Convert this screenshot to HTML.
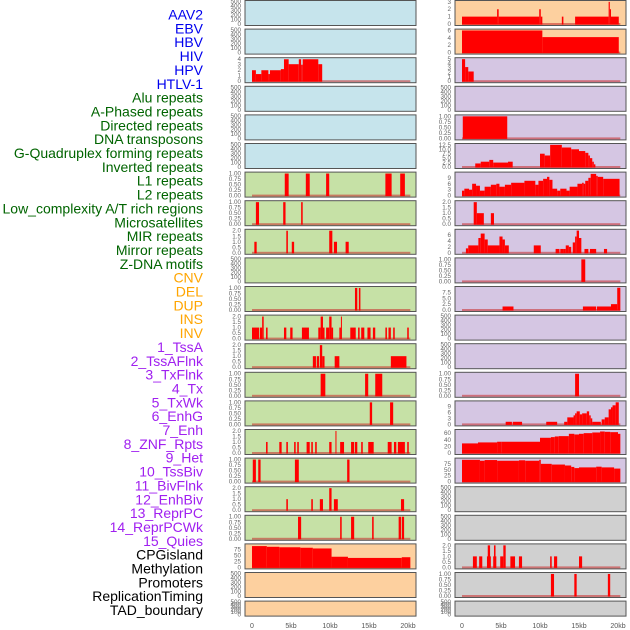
<!DOCTYPE html>
<html><head><meta charset="utf-8">
<style>
html,body{margin:0;padding:0;background:#fff;width:630px;height:630px;overflow:hidden}
svg{display:block;font-family:"Liberation Sans",sans-serif}
</style></head><body>
<svg id="chart" width="630" height="630" viewBox="0 0 630 630"></svg>
<script>
const labelNames = ["AAV2","EBV","HBV","HIV","HPV","HTLV-1","Alu repeats","A-Phased repeats","Directed repeats","DNA transposons","G-Quadruplex forming repeats","Inverted repeats","L1 repeats","L2 repeats","Low_complexity A/T rich regions","Microsatellites","MIR repeats","Mirror repeats","Z-DNA motifs","CNV","DEL","DUP","INS","INV","1_TssA","2_TssAFlnk","3_TxFlnk","4_Tx","5_TxWk","6_EnhG","7_Enh","8_ZNF_Rpts","9_Het","10_TssBiv","11_BivFlnk","12_EnhBiv","13_ReprPC","14_ReprPCWk","15_Quies","CPGisland","Methylation","Promoters","ReplicationTiming","TAD_boundary"];
const labelColors = ["#0000ee","#0000ee","#0000ee","#0000ee","#0000ee","#0000ee","#006400","#006400","#006400","#006400","#006400","#006400","#006400","#006400","#006400","#006400","#006400","#006400","#006400","#ffa500","#ffa500","#ffa500","#ffa500","#ffa500","#a020f0","#a020f0","#a020f0","#a020f0","#a020f0","#a020f0","#a020f0","#a020f0","#a020f0","#a020f0","#a020f0","#a020f0","#a020f0","#a020f0","#a020f0","#000","#000","#000","#000","#000"];
const xTickValues = [0,5,10,15,20];
const xTickLabels = ["0","5kb","10kb","15kb","20kb"];

const hivSegs = [[0,0.5,2],[0.5,1.2,1.3],[1.2,2.1,2],[2.1,2.3,1.3],[2.3,3.7,2],[3.7,4.1,2.2],[4.1,4.7,4],[4.7,6.0,3.1],[6.0,6.3,4],[6.3,6.5,3],[6.5,8.5,4],[8.5,9.0,3.1]];
const l7Segs = [[4.2,4.7,1],[6.9,7.4,1],[9.5,9.9,1],[17.1,17.9,1],[19.0,19.6,1]];
const l8Segs = [[0.5,0.9,1],[4.0,4.3,1],[6.3,6.5,1]];
const l9Segs = [[0.3,0.6,1],[4.4,4.6,2],[5.1,5.4,1],[9.9,10.3,2],[10.5,10.9,1],[12.0,12.4,1]];
const l11Segs = [[13.2,13.5,1],[13.7,13.9,1]];
const l12Segs = [[0,0.9,1],[1.0,1.3,1],[1.3,1.5,2],[1.8,2.0,1],[4.1,4.4,1],[4.9,5.2,1],[6.4,7.3,1],[8.5,8.8,1],[8.8,9.1,2],[9.1,9.3,1],[9.5,9.9,1],[9.9,10.2,2],[10.2,10.4,1],[11.2,11.4,1],[11.4,11.5,2],[12.6,13.3,1],[13.6,13.8,1],[14.0,14.4,1],[14.8,15.2,1],[15.5,15.8,1],[17.1,17.3,1],[17.5,17.8,1],[18.1,18.3,1],[19.9,20.1,1]];
const l13Segs = [[7.8,8.2,1],[8.3,8.6,1],[8.7,9.0,2],[9.0,9.3,1],[10.6,11.2,1],[17.8,19.8,1]];
const l14Segs = [[8.8,9.4,1],[14.5,14.9,1],[15.8,16.7,1]];
const l15Segs = [[15.1,15.4,1],[17.7,18.1,1]];
const l16Segs = [[1.8,2.0,1],[3.5,3.8,1],[4.4,4.6,1],[5.4,5.6,1],[5.8,6.0,1],[7.0,7.4,1],[7.6,7.8,1],[8.1,8.3,1],[9.9,10.2,1],[10.7,10.8,2],[11.3,11.8,1],[12.7,13.1,1],[13.2,13.5,1],[14.0,14.2,1],[14.9,15.6,1],[17.4,17.9,1],[18.2,18.5,1],[18.7,19.6,1],[19.9,20.1,1]];
const l17Segs = [[0.1,0.5,1],[0.8,1.1,1],[5.5,6.0,1],[12.2,12.5,1]];
const l18Segs = [[4.4,4.6,1],[7.6,7.8,1],[8.7,9.1,1],[9.9,10.2,2],[10.5,11.0,1],[19.1,19.5,1]];
const l19Segs = [[5.9,6.3,1],[11.3,11.5,1],[12.7,13.1,1],[15.4,15.6,1],[18.8,19.1,1],[19.2,19.5,1]];
const cpgSegs = [[0,1.9,90],[1.9,3.5,87],[3.5,6.2,85],[6.2,7.8,83],[7.8,10.2,80],[10.2,12.3,45],[12.3,19.2,40],[19.2,20.3,43]];
const r1Segs = [[0,4.5,1],[4.5,4.7,2],[4.7,9.9,1],[9.9,10.1,2],[10.1,10.3,1],[12.8,13.0,1],[14.5,18.8,1],[18.8,18.95,3],[18.95,19.1,2],[19.1,20.1,1]];
const r2Segs = [[0,10.3,6],[10.3,20.1,4.2]];
const r3Segs = [[0,0.4,5],[0.4,0.8,3.2],[0.8,1.5,2.2]];
const r5Segs = [[0.1,5.8,1]];
const r6Segs = [[1.7,2.4,2],[2.4,3.5,3],[3.5,4.0,4],[4.0,5.9,2.5],[5.9,6.5,3],[10.0,10.6,7.5],[10.6,11.3,6.5],[11.3,12.8,12.5],[12.8,14.0,11],[14.0,15.0,10],[15.0,15.8,9],[15.8,16.2,8],[16.2,16.4,6.5],[16.4,16.7,5],[16.7,16.9,3],[16.9,17.1,1.5]];
const r7Segs = [[0,0.3,2.5],[0.3,0.9,3.5],[0.9,1.3,3],[1.3,1.8,6],[1.8,2.3,5],[2.3,2.9,2.5],[2.9,3.7,4.5],[3.7,4.4,5.5],[4.4,4.8,6],[4.8,5.5,4.5],[5.5,6.3,5.5],[6.3,8.0,6.5],[8.0,9.4,7.5],[9.4,9.8,5.5],[9.8,10.4,7.5],[10.4,10.9,8.5],[10.9,11.2,9.5],[11.2,11.6,8],[11.6,12.2,3.5],[12.2,12.6,2.5],[12.6,13.4,3.5],[13.4,13.8,2.5],[13.8,14.8,4.5],[14.8,15.4,6],[15.4,15.6,6.5],[15.6,15.8,6],[15.8,16.2,7.5],[16.2,16.5,9],[16.5,17.2,11],[17.2,17.4,10],[17.4,18.1,9.5],[18.1,20.2,8.5]];
const r8Segs = [[1.5,1.9,2],[1.9,2.8,1],[3.7,4.1,1]];
const r9Segs = [[0.5,0.8,1.5],[0.8,2.1,2.5],[2.1,2.4,5],[2.4,2.9,6.5],[2.9,3.3,4.5],[3.3,4.8,2.5],[4.8,5.2,5.5],[5.2,5.5,4.5],[5.5,6.0,2.5],[9.2,10.1,2.5],[12.0,12.5,1.3],[12.6,13.0,1.3],[13.0,13.3,1.3],[13.3,13.7,2.5],[13.7,14.0,2],[14.2,14.5,3.5],[14.5,14.7,5.5],[14.7,15.0,7.5],[15.0,15.3,5],[15.7,16.2,1.3],[16.4,17.2,1.3],[18.2,18.6,1.3]];
const r10Segs = [[15.3,15.8,1]];
const r11Segs = [[5.2,6.6,1.5],[15.5,17.2,1.5],[17.3,19.1,1.5],[19.1,19.9,2.5],[19.9,20.3,9.5]];
const r14Segs = [[14.5,15.0,1]];
const r15Segs = [[5.6,6.4,1.3],[6.5,7.7,1.3],[10.8,12.2,1.3],[13.1,13.5,1.3],[13.5,14.3,3.5],[14.3,14.5,4.5],[14.5,14.7,5.5],[14.7,15.1,6.5],[15.1,15.4,5],[15.4,16.0,5.5],[16.0,16.3,6.5],[16.3,16.5,4.5],[16.5,16.7,3],[16.7,17.8,1.3],[17.9,18.3,2.5],[18.3,18.8,3.5],[18.8,19.1,7.5],[19.1,19.3,8.5],[19.3,19.7,9.5],[19.7,20.1,11]];
const r16Segs = [[0,2.05,29],[2.05,4.5,32],[4.5,5.1,34],[5.1,10.0,34],[10.0,11.4,46],[11.4,11.9,48],[11.9,12.4,50],[12.4,13.7,51],[13.7,14.4,58],[14.4,15.0,56],[15.0,15.6,58],[15.6,16.7,60],[16.7,17.7,62],[17.7,18.3,65],[18.3,19.0,64],[19.0,20.0,63],[20.0,20.3,58]];
const r17Segs = [[0,2.3,92],[2.3,2.9,88],[2.9,4.5,91],[4.5,7.3,88],[7.3,8.1,90],[8.1,9.9,88],[9.9,10.1,92],[10.1,11.5,75],[11.5,13.2,72],[13.2,14.0,68],[14.0,14.4,62],[14.4,15.0,57],[15.0,17.2,60],[17.2,17.9,63],[17.9,19.5,60],[19.5,20.3,55]];
const r20Segs = [[1.4,1.9,1],[2.2,2.6,1],[3.2,3.7,1],[3.3,3.6,2],[4.0,4.4,1],[4.1,4.3,2],[4.9,5.3,1],[5.3,5.6,2],[6.2,6.8,1],[7.3,7.7,1],[11.3,11.5,1],[11.8,12.2,1],[15.0,15.4,1]];
const r21Segs = [[11.4,11.8,1],[14.4,14.7,1],[18.7,19.0,1]];

const tk1 = [[0,"0.00"],[0.25,"0.25"],[0.5,"0.50"],[0.75,"0.75"],[1,"1.00"]];
const tk2 = [[0,"0.0"],[0.5,"0.5"],[1,"1.0"],[1.5,"1.5"],[2,"2.0"]];
const tkE = [[0,"0"],[100,"100"],[200,"200"],[300,"300"],[400,"400"],[500,"500"]];

const C = {blue:"#c6e4ec",green:"#c6e1a6",orange:"#fdd09f",purple:"#d5c6e3",gray:"#d0d0d0"};
const panels = [
 ["aav2",0,0,"blue",500,tkE,null],["ebv",0,1,"blue",500,tkE,null],
 ["hbv",0,2,"blue",4.1,[[0,"0"],[1,"1"],[2,"2"],[3,"3"],[4,"4"]],hivSegs],
 ["hiv",0,3,"blue",500,tkE,null],["hpv",0,4,"blue",500,tkE,null],["htlv1",0,5,"blue",500,tkE,null],
 ["alu",0,6,"green",1.02,tk1,l7Segs],["a-phased",0,7,"green",1.02,tk1,l8Segs],["directed",0,8,"green",2.04,tk2,l9Segs],
 ["dna-transposons",0,9,"green",500,tkE,null],["g-quadruplex",0,10,"green",1.02,tk1,l11Segs],["inverted",0,11,"green",2.04,tk2,l12Segs],
 ["l1",0,12,"green",2.04,tk2,l13Segs],["l2",0,13,"green",1.02,tk1,l14Segs],["low-complexity",0,14,"green",1.02,tk1,l15Segs],
 ["microsatellites",0,15,"green",2.04,tk2,l16Segs],["mir",0,16,"green",1.02,tk1,l17Segs],["mirror",0,17,"green",2.04,tk2,l18Segs],
 ["z-dna",0,18,"green",1.02,tk1,l19Segs],["cnv",0,19,"orange",95,[[0,"0"],[25,"25"],[50,"50"],[75,"75"]],cpgSegs],
 ["del",0,20,"orange",500,tkE,null],["dup",0,21,"orange",500,tkE,null],
 ["ins",1,0,"orange",3.05,[[0,"0"],[1,"1"],[2,"2"],[3,"3"]],r1Segs],["inv",1,1,"orange",6.1,[[0,"0"],[2,"2"],[4,"4"],[6,"6"]],r2Segs],
 ["tssa",1,2,"purple",5.1,[[0,"0"],[1,"1"],[2,"2"],[3,"3"],[4,"4"],[5,"5"]],r3Segs],["tssaflnk",1,3,"purple",500,tkE,null],
 ["txflnk",1,4,"purple",1.02,tk1,r5Segs],["tx",1,5,"purple",12.7,[[0,"0.0"],[2.5,"2.5"],[5,"5.0"],[7.5,"7.5"],[10,"10.0"],[12.5,"12.5"]],r6Segs],
 ["txwk",1,6,"purple",11.4,[[0,"0"],[3,"3"],[6,"6"],[9,"9"]],r7Segs],["enhg",1,7,"purple",2.04,tk2,r8Segs],
 ["enh",1,8,"purple",7.6,[[0,"0"],[2,"2"],[4,"4"],[6,"6"]],r9Segs],["znf",1,9,"purple",1.02,tk1,r10Segs],
 ["het",1,10,"purple",9.6,[[0,"0.0"],[2.5,"2.5"],[5,"5.0"],[7.5,"7.5"]],r11Segs],["tssbiv",1,11,"purple",500,tkE,null],
 ["bivflnk",1,12,"purple",500,tkE,null],["enhbiv",1,13,"purple",1.02,tk1,r14Segs],
 ["reprpc",1,14,"purple",11.2,[[0,"0"],[3,"3"],[6,"6"],[9,"9"]],r15Segs],["reprpcwk",1,15,"purple",68,[[0,"0"],[20,"20"],[40,"40"],[60,"60"]],r16Segs],
 ["quies",1,16,"purple",95,[[0,"0"],[25,"25"],[50,"50"],[75,"75"]],r17Segs],["cpgisland",1,17,"gray",500,tkE,null],
 ["methylation",1,18,"gray",500,tkE,null],["promoters",1,19,"gray",2.04,tk2,r20Segs],
 ["replication-timing",1,20,"gray",1.02,tk1,r21Segs],["tad-boundary",1,21,"gray",500,tkE,null]
];

const NS="http://www.w3.org/2000/svg";
const svg=document.getElementById('chart');
function mk(tag,attrs,parent){const e=document.createElementNS(NS,tag);for(const k in attrs)e.setAttribute(k,attrs[k]);(parent||svg).appendChild(e);return e;}
const colLeft=[245,455], panelW=171, kbPx=7.8, x0Off=7;
function xScale(col,kb){return colLeft[col]+x0Off+kb*kbPx;}
function rowTop(r){return 0.5+r*28.6;}
function rowH(r){return r===21?15:25;}

labelNames.forEach((t,i)=>{
  const e=mk('text',{x:203,y:19.5+i*13.85,'text-anchor':'end','font-size':'14',fill:labelColors[i]});
  e.textContent=t;
  
  
});

panels.forEach(p=>{
  const [name,col,row,bg,ymax,ticks,segs]=p;
  const top=rowTop(row),h=rowH(row),left=colLeft[col];
  const g=mk('g',{});
  
  
  const base=top+h-1.5, yS=v=>base-(v/ymax)*(h-2.5);
  mk('rect',{x:left,y:top,width:panelW,height:h,fill:C[bg]},g);
  if(segs){
    const bl=mk('rect',{x:xScale(col,0),y:base-1,width:20.3*kbPx,height:2,fill:'rgba(200,40,40,0.55)'},g);
    
    
    segs.forEach(s=>{
      const x1=xScale(col,s[0]),x2=xScale(col,s[1]),y=yS(s[2]);
      const r=mk('rect',{x:x1,y:y,width:Math.max(1,x2-x1),height:base-y+0.5,fill:'#ff0000'},g);
      
      
    });
  }
  mk('rect',{x:left,y:top,width:panelW,height:h,fill:'none',stroke:'#555','stroke-width':1},g);
  ticks.forEach(t=>{
    const e=mk('text',{x:left-4,y:yS(t[0])+2,'text-anchor':'end','font-size':'6.3',fill:'#666'},g);
    e.textContent=t[1];
    
    
  });
});

[0,1].forEach(col=>{
  xTickValues.forEach((v,i)=>{
    const e=mk('text',{x:xScale(col,v),y:628,'text-anchor':'middle','font-size':'7',fill:'#555'});
    e.textContent=xTickLabels[i];
    
    
  });
});
</script>
</body></html>
